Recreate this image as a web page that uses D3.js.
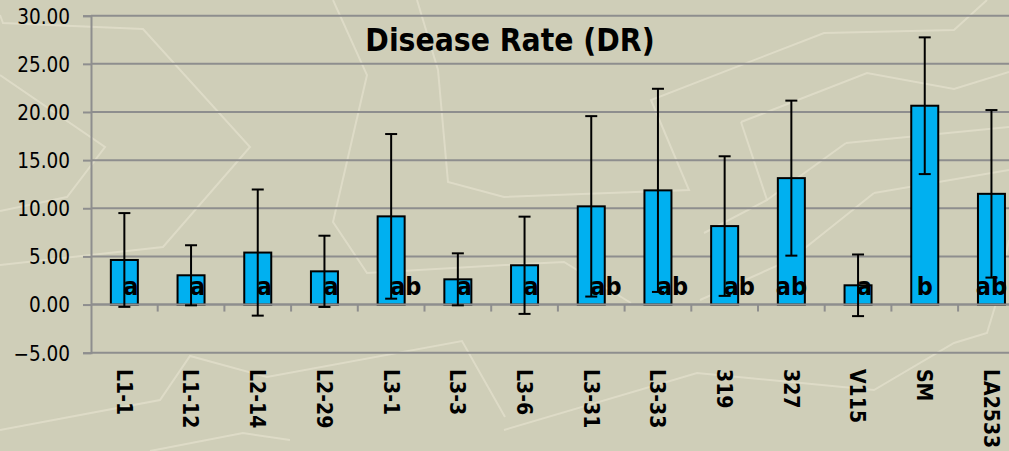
<!DOCTYPE html>
<html>
<head>
<meta charset="utf-8">
<script src="https://cdn.jsdelivr.net/npm/d3@7"></script>
<style>
  html, body { margin: 0; padding: 0; background: #cecdb7; overflow: hidden; }
  svg { display: block; }
  text { font-family: "DejaVu Sans Condensed", "DejaVu Sans", sans-serif; font-stretch: condensed; }
</style>
</head>
<body>
<svg id="chart" width="1009" height="451"></svg>
<script>
const categories = ["L1-1", "L1-12", "L2-14", "L2-29", "L3-1", "L3-3", "L3-6", "L3-31", "L3-33", "319", "327", "V115", "SM", "LA2533"];
const means = [4.63, 3.04, 5.40, 3.45, 9.16, 2.62, 4.08, 10.20, 11.86, 8.15, 13.13, 2.00, 20.65, 11.50];
const sds = [4.87, 3.12, 6.55, 3.70, 8.55, 2.70, 5.05, 9.37, 10.55, 7.25, 8.05, 3.20, 7.10, 8.70];
const letters = ["a", "a", "a", "a", "ab", "a", "a", "ab", "ab", "ab", "ab", "a", "b", "ab"];
const letterAnchor = ["start", "start", "start", "start", "start", "start", "start", "start", "start", "start", "middle", "start", "middle", "middle"];
const yTicks = [-5, 0, 5, 10, 15, 20, 25, 30];
const title = "Disease Rate (DR)";

const svg = d3.select("#chart");
const W = 1009, H = 451;
svg.append("rect").attr("width", W).attr("height", H).attr("fill", "#cfceb8");

// decorative background texture (faint light strokes)
const texture = [
  [[0,15],[3,23],[143,29],[250,147],[163,247],[0,265]],
  [[0,75],[105,147],[67,197],[0,211]],
  [[333,0],[367,75],[333,222],[367,273],[505,265],[564,262],[631,303]],
  [[417,0],[438,70],[448,182],[504,197],[689,190],[651,100],[824,33],[954,30],[987,0]],
  [[0,430],[160,400],[190,356],[267,377],[462,341],[505,417]],
  [[150,451],[243,433],[290,440]],
  [[741,122],[867,73],[954,89],[1009,72]],
  [[741,122],[767,200],[704,233]],
  [[846,143],[1009,127]],
  [[846,143],[767,200]],
  [[874,193],[1009,170]],
  [[874,193],[790,260],[700,300]],
  [[504,430],[697,373],[874,390],[954,343],[987,333],[997,300],[1009,240]]
];
svg.append("g").selectAll("path").data(texture).join("path")
  .attr("d", d3.line())
  .attr("fill", "none").attr("stroke", "#e1dfcb").attr("stroke-width", 2).attr("opacity", 0.8);

const left = 91, bandW = 66.7;
const x = d3.scaleBand().domain(categories).range([left, left + bandW * categories.length]).padding(0);
const y = d3.scaleLinear().domain([-5, 30]).range([352.7, 15.7]);
const gridColor = "#8e8e8e";
const xRight = left + bandW * categories.length;

// gridlines
svg.append("g").selectAll("line").data(yTicks).join("line")
  .attr("x1", left).attr("x2", xRight)
  .attr("y1", d => y(d)).attr("y2", d => y(d))
  .attr("stroke", gridColor).attr("stroke-width", 2);

// y axis
const yAxis = d3.axisLeft(y).tickValues(yTicks).tickFormat(d3.format(".2f")).tickSize(8).tickPadding(13);
const gy = svg.append("g").attr("transform", `translate(${left},0)`).call(yAxis);
gy.select(".domain").attr("stroke", gridColor).attr("stroke-width", 2);
gy.selectAll(".tick line").attr("stroke", gridColor).attr("stroke-width", 2);
gy.selectAll(".tick text").attr("fill", "#000").style("font-size", "20.5px")
  .style("font-family", "'DejaVu Sans Condensed', 'DejaVu Sans', sans-serif").attr("dy", "0.36em");

// x axis ticks at zero line (between categories)
const gx = svg.append("g");
gx.selectAll("line.tk").data(d3.range(1, categories.length + 1)).join("line")
  .attr("class", "tk")
  .attr("x1", i => left + i * bandW).attr("x2", i => left + i * bandW)
  .attr("y1", y(0)).attr("y2", y(0) + 7)
  .attr("stroke", gridColor).attr("stroke-width", 2);

// bars
const barW = 27;
svg.append("g").selectAll("rect").data(categories).join("rect")
  .attr("x", (d) => x(d) + x.bandwidth() / 2 - barW / 2)
  .attr("width", barW)
  .attr("y", (d, i) => y(Math.max(0, means[i])))
  .attr("height", (d, i) => Math.abs(y(means[i]) - y(0)))
  .attr("fill", "#00b0f0").attr("stroke", "#000").attr("stroke-width", 2);

// zero line over bars
svg.append("line").attr("x1", left).attr("x2", xRight).attr("y1", y(0)).attr("y2", y(0))
  .attr("stroke", gridColor).attr("stroke-width", 2);

// error bars
const eg = svg.append("g").attr("stroke", "#000").attr("stroke-width", 2);
categories.forEach((c, i) => {
  const cx = x(c) + x.bandwidth() / 2;
  const hi = y(means[i] + sds[i]), lo = y(means[i] - sds[i]);
  eg.append("line").attr("x1", cx).attr("x2", cx).attr("y1", hi).attr("y2", lo);
  eg.append("line").attr("x1", cx - 6).attr("x2", cx + 6).attr("y1", hi).attr("y2", hi);
  eg.append("line").attr("x1", cx - 6).attr("x2", cx + 6).attr("y1", lo).attr("y2", lo);
});

// significance letters
svg.append("g").selectAll("text").data(categories).join("text")
  .attr("x", (d, i) => x(d) + x.bandwidth() / 2 + (letterAnchor[i] === "start" ? -1 : 0))
  .attr("y", y(0) - 10)
  .attr("text-anchor", (d, i) => letterAnchor[i])
  .style("font-size", "25px").style("font-weight", "bold")
  .attr("fill", "#000")
  .text((d, i) => letters[i]);

// x labels rotated
svg.append("g").selectAll("text").data(categories).join("text")
  .attr("transform", d => `translate(${x(d) + x.bandwidth() / 2},369) rotate(90)`)
  .attr("dy", "0.36em")
  .attr("text-anchor", "start")
  .style("font-size", "21px").style("font-weight", "bold")
  .attr("fill", "#000")
  .text(d => d);

// title
svg.append("text").attr("x", 510).attr("y", 50.5).attr("text-anchor", "middle")
  .style("font-size", "31.5px").style("font-weight", "bold").attr("fill", "#000")
  .text(title);
</script>
</body>
</html>
